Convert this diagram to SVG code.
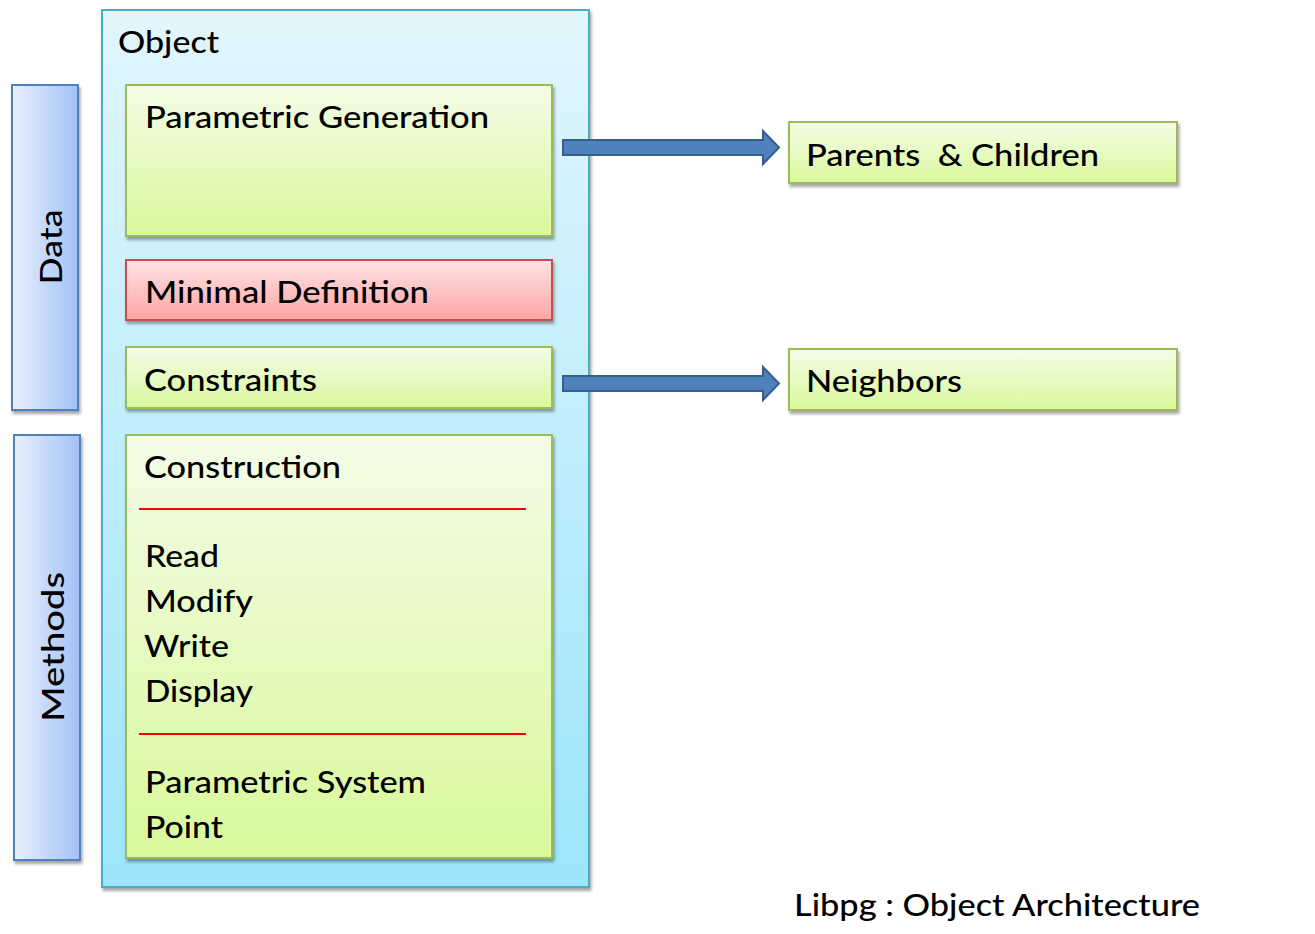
<svg xmlns="http://www.w3.org/2000/svg" width="1315" height="934" viewBox="0 0 1315 934">
<defs>
<linearGradient id="gObj" x1="0" y1="0" x2="0" y2="1"><stop offset="0" stop-color="#e2f6fd"/><stop offset="1" stop-color="#9de5fb"/></linearGradient>
<linearGradient id="gGreen" x1="0" y1="0" x2="0" y2="1"><stop offset="0" stop-color="#f4fce8"/><stop offset="1" stop-color="#d9f99b"/></linearGradient>
<linearGradient id="gRed" x1="0" y1="0" x2="0" y2="1"><stop offset="0" stop-color="#fee3e3"/><stop offset="1" stop-color="#fca6a5"/></linearGradient>
<linearGradient id="gBlue" x1="0" y1="0" x2="1" y2="0"><stop offset="0" stop-color="#e9f0fe"/><stop offset="1" stop-color="#a3c1f6"/></linearGradient>
<filter id="sh" x="-10%" y="-10%" width="120%" height="130%"><feDropShadow dx="1.5" dy="3" stdDeviation="1.8" flood-color="#000" flood-opacity="0.35"/></filter>
</defs>
<style>
text{font-family:Lato,"Open Sans","Liberation Sans",sans-serif;fill:#000;font-size:31px;font-weight:500}
.green{fill:url(#gGreen);stroke:#9bbb59;stroke-width:2}
.red{fill:url(#gRed);stroke:#c0504d;stroke-width:2}
.blue{fill:url(#gBlue);stroke:#4f81bd;stroke-width:2}
.sep{stroke:#ff0000;stroke-width:2}
.arrow{fill:#4f81bd;stroke:#385d8a;stroke-width:2}
</style>
<g id="object">
<rect x="102" y="10" width="487" height="877" fill="url(#gObj)" stroke="#4bacc6" stroke-width="2" filter="url(#sh)"/>
<text x="118" y="53" textLength="101" lengthAdjust="spacingAndGlyphs">Object</text>
</g>
<g id="data">
<rect class="blue" x="12" y="85" width="66" height="325" filter="url(#sh)"/>
<text transform="translate(62,247) rotate(-90)" text-anchor="middle" font-size="37" textLength="75" lengthAdjust="spacingAndGlyphs">Data</text>
</g>
<g id="methods">
<rect class="blue" x="14" y="435" width="66" height="425" filter="url(#sh)"/>
<text transform="translate(64,647) rotate(-90)" text-anchor="middle" font-size="37" textLength="150" lengthAdjust="spacingAndGlyphs">Methods</text>
</g>
<g id="parametric-generation">
<rect class="green" x="126" y="85" width="426" height="151" filter="url(#sh)"/>
<text x="145" y="128" textLength="344" lengthAdjust="spacingAndGlyphs">Parametric Generation</text>
</g>
<g id="minimal-definition">
<rect class="red" x="126" y="260" width="426" height="60" filter="url(#sh)"/>
<text x="145" y="303" textLength="284" lengthAdjust="spacingAndGlyphs">Minimal Definition</text>
</g>
<g id="constraints">
<rect class="green" x="126" y="347" width="426" height="61" filter="url(#sh)"/>
<text x="144" y="391" textLength="173" lengthAdjust="spacingAndGlyphs">Constraints</text>
</g>
<g id="methods-list">
<rect class="green" x="126" y="435" width="426" height="423" filter="url(#sh)"/>
<text x="144" y="478" textLength="197" lengthAdjust="spacingAndGlyphs">Construction</text>
<line class="sep" x1="139" y1="509" x2="526" y2="509"/>
<text x="145" y="567" textLength="74" lengthAdjust="spacingAndGlyphs">Read</text>
<text x="145" y="612" textLength="108" lengthAdjust="spacingAndGlyphs">Modify</text>
<text x="144" y="657" textLength="85" lengthAdjust="spacingAndGlyphs">Write</text>
<text x="145" y="702" textLength="108" lengthAdjust="spacingAndGlyphs">Display</text>
<line class="sep" x1="139" y1="734" x2="526" y2="734"/>
<text x="145" y="793" textLength="281" lengthAdjust="spacingAndGlyphs">Parametric System</text>
<text x="145" y="838" textLength="78" lengthAdjust="spacingAndGlyphs">Point</text>
</g>
<g id="parents-children">
<rect class="green" x="789" y="122" width="388" height="61" filter="url(#sh)"/>
<text x="806" y="166" textLength="293" lengthAdjust="spacingAndGlyphs" style="white-space:pre">Parents  &amp; Children</text>
</g>
<g id="neighbors">
<rect class="green" x="789" y="349" width="388" height="61" filter="url(#sh)"/>
<text x="806" y="392" textLength="156" lengthAdjust="spacingAndGlyphs">Neighbors</text>
</g>
<g id="connectors">
<path class="arrow" d="M563,140 H763 V131 L779,147.5 L763,164 V155 H563 Z"/>
<path class="arrow" d="M563,376 H763 V367 L779,383.5 L763,400 V391 H563 Z"/>
</g>
<g id="caption">
<text x="794" y="916" textLength="406" lengthAdjust="spacingAndGlyphs">Libpg : Object Architecture</text>
</g>
</svg>
